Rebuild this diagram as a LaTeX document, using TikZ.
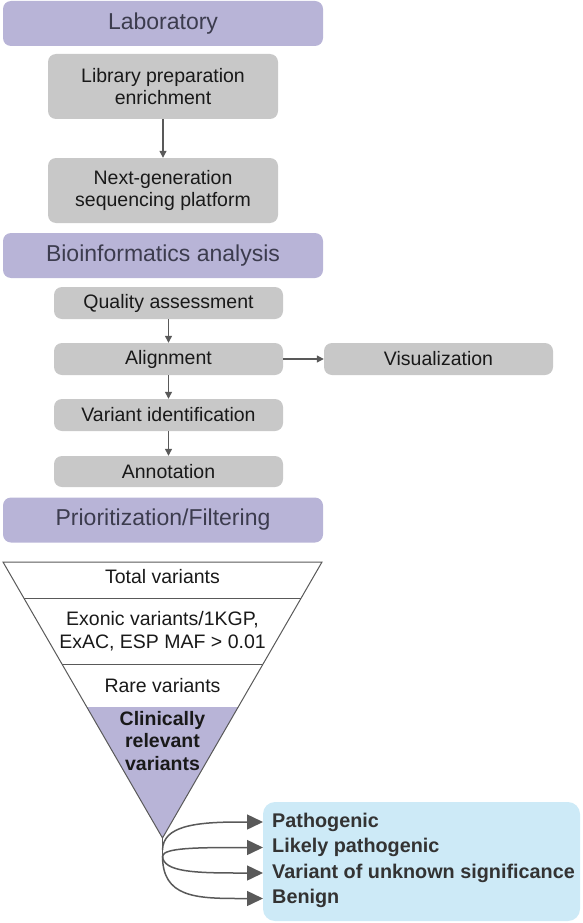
\documentclass[tikz,border=0pt]{standalone}
\usepackage{fontspec}
\setmainfont{Liberation Sans}
\usetikzlibrary{arrows.meta}
\definecolor{lav}{HTML}{B8B4D7}
\definecolor{grayfill}{HTML}{C8C8C8}
\definecolor{bluefill}{HTML}{CDEAF7}
\definecolor{hdrtext}{HTML}{3C3C4E}
\definecolor{linegray}{HTML}{595959}
\definecolor{darktext}{HTML}{333333}
\begin{document}
\begin{tikzpicture}[x=1pt,y=-1pt,
  hdr/.style={fill=lav, rounded corners=8pt, minimum width=320pt, minimum height=45pt,
    text=hdrtext, font=\fontsize{23}{26}\selectfont, inner sep=0pt},
  gbox/.style={fill=grayfill, rounded corners=8pt, minimum width=229pt, inner sep=0pt,
    text=black!90, font=\fontsize{19.5}{22}\selectfont, align=center},
  ftext/.style={text=black!90, font=\fontsize{19.5}{22.5}\selectfont, align=center, inner sep=0pt},
  flow/.style={draw=linegray, line width=1.2pt, -{Triangle[length=7pt,width=7pt]}},
  fanarrow/.style={draw=linegray, line width=1.5pt, -{Triangle[length=16pt,width=15pt]}},
  funnelline/.style={draw=linegray, line width=1pt},
  cls/.style={font=\fontsize{19.8}{22}\selectfont\bfseries, text=darktext, anchor=west,
    inner xsep=9pt, inner ysep=0pt}
]
\useasboundingbox (0,0) rectangle (583,923);

% Laboratory
\node[hdr] (lab) at (163,23.5) {Laboratory};
\node[gbox, minimum width=230pt, minimum height=65pt] (lib) at (163,86.5) {Library preparation\\enrichment};
\node[gbox, minimum width=230pt, minimum height=65pt] (ngs) at (163,190.5) {Next-generation\\sequencing platform};
\draw[flow] (lib) -- (ngs);

% Bioinformatics
\node[hdr] (bio) at (163,255.5) {Bioinformatics analysis};
\node[gbox, minimum height=32pt] (qa) at (168.5,303) {Quality assessment};
\node[gbox, minimum height=32pt] (al) at (168.5,359) {Alignment};
\node[gbox, minimum height=32pt] (vis) at (438.5,359) {Visualization};
\node[gbox, minimum height=32pt] (vi) at (168.5,415) {Variant identification};
\node[gbox, minimum height=31pt] (an) at (168.5,471.5) {Annotation};
\draw[flow] (qa) -- (al);
\draw[flow] (al) -- (vis);
\draw[flow] (al) -- (vi);
\draw[flow] (vi) -- (an);

% Prioritization
\node[hdr] (pri) at (163,520) {Prioritization/Filtering};

% Funnel
\coordinate (ftl) at (3,562);
\coordinate (ftr) at (322,562);
\coordinate (apex) at (162.5,838);
\fill[lav] (86.8,707) -- (238.2,707) -- (apex) -- cycle;
\draw[funnelline, line join=miter] (ftl) -- (ftr) -- (apex) -- cycle;
\draw[funnelline] (23.8,598) -- (301.2,598);
\draw[funnelline] (61.9,664) -- (263.1,664);
\node[ftext] (tot) at (162.5,577) {Total variants};
\node[ftext] (exo) at (162.5,631) {Exonic variants/1KGP,\\ExAC, ESP MAF > 0.01};
\node[ftext] (rare) at (162.5,686) {Rare variants};
\node[ftext, font=\fontsize{19.5}{22.5}\selectfont\bfseries] (clin) at (162.5,741) {Clinically\\relevant\\variants};

% Classification
\node[fill=bluefill, rounded corners=12pt, minimum width=317pt, minimum height=119pt, inner sep=0pt] (clsbox) at (421.5,861.5) {};
\node[cls] (p1) at (263,822) {Pathogenic};
\node[cls] (p2) at (263,847.5) {Likely pathogenic};
\node[cls] (p3) at (263,873) {Variant of unknown significance};
\node[cls] (p4) at (263,898.5) {Benign};

\coordinate (fan1) at (162.5,850);
\coordinate (fan) at (162.5,856);
\draw[draw=linegray, line width=1.5pt] (apex) -- (162.5,862);
\draw[fanarrow] (fan1) .. controls (163,826) and (195,822) .. (240,822) -- (p1.west);
\draw[fanarrow] (fan) .. controls (164,848) and (195,847.5) .. (240,847.5) -- (p2.west);
\draw[fanarrow] (fan) .. controls (163,872) and (195,873) .. (240,873) -- (p3.west);
\draw[fanarrow] (fan) .. controls (162.5,897) and (195,898.5) .. (240,898.5) -- (p4.west);
\end{tikzpicture}
\end{document}
